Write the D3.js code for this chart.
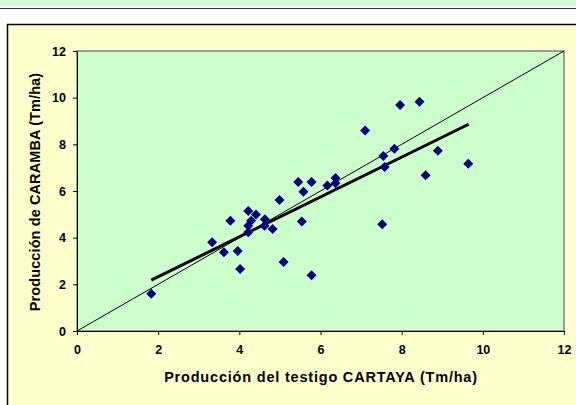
<!DOCTYPE html>
<html>
<head>
<meta charset="utf-8">
<script src="https://cdn.jsdelivr.net/npm/d3@7"></script>
<style>
  body { margin: 0; background: #fff; }
  svg { display: block; font-family: "Liberation Sans", Arial, sans-serif; }
</style>
</head>
<body>
<div id="chart"></div>
<script>
// Production data (Tm/ha)
const cartaya = [1.83, 3.33, 3.62, 3.78, 3.96, 4.02, 4.22, 4.22, 4.22, 4.29, 4.41, 4.63, 4.62, 4.82,
  4.99, 5.09, 5.45, 5.58, 5.54, 5.78, 5.78, 6.17, 6.37, 6.37, 7.10, 7.55, 7.58, 7.82, 7.96,
  8.44, 8.89, 8.59, 9.64, 7.52];
const caramba = [1.60, 3.80, 3.37, 4.73, 3.43, 2.66, 5.14, 4.51, 4.23, 4.73, 4.99, 4.79, 4.51, 4.37,
  5.61, 2.96, 6.39, 5.97, 4.69, 6.39, 2.39, 6.24, 6.56, 6.33, 8.59, 7.50, 7.03, 7.81, 9.69,
  9.83, 7.72, 6.67, 7.17, 4.57];
// trend line end points and the 1:1 reference line
const trendX = [1.83, 9.65];
const trendY = [2.18, 8.86];
const diagX = [0, 12];
const diagY = [0, 12];
const ticks = [0, 2, 4, 6, 8, 10, 12];

const W = 576, H = 405;
const svg = d3.select("#chart").append("svg").attr("width", W).attr("height", H);

// top strip
svg.append("rect").attr("x", 0).attr("y", 0).attr("width", W).attr("height", 6).attr("fill", "#d4f7d4");
svg.append("line").attr("x1", 0).attr("x2", W).attr("y1", 8.5).attr("y2", 8.5)
  .attr("stroke", "#333").attr("stroke-width", 1.2);

// outer chart frame
svg.append("rect").attr("x", 7.5).attr("y", 24.5).attr("width", 600).attr("height", 420)
  .attr("fill", "#ffffcc").attr("stroke", "#000").attr("stroke-width", 1.5);

const margin = { left: 77, top: 51, right: 564, bottom: 331 };
const x = d3.scaleLinear().domain([0, 12]).range([margin.left, margin.right]);
const y = d3.scaleLinear().domain([0, 12]).range([margin.bottom, margin.top]);

// plot area
svg.append("rect").attr("x", margin.left).attr("y", margin.top)
  .attr("width", margin.right - margin.left).attr("height", margin.bottom - margin.top)
  .attr("fill", "#ccffcc").attr("stroke", "#808080").attr("stroke-width", 1.5);

// axes
const xAxis = svg.append("g").attr("transform", `translate(0,${margin.bottom})`)
  .call(d3.axisBottom(x).tickValues(ticks).tickSize(4).tickSizeOuter(0).tickPadding(10));
const yAxis = svg.append("g").attr("transform", `translate(${margin.left},0)`)
  .call(d3.axisLeft(y).tickValues(ticks).tickSize(4).tickSizeOuter(0).tickPadding(7));
[xAxis, yAxis].forEach(a => {
  a.selectAll("path").attr("stroke", "#000").attr("stroke-width", 1);
  a.selectAll("line").attr("stroke", "#000");
  a.selectAll("text").attr("font-size", 12.5).attr("font-weight", "bold")
    .attr("font-family", "Liberation Sans, Arial, sans-serif").attr("fill", "#000");
});

// 1:1 line
svg.append("line")
  .attr("x1", x(diagX[0])).attr("y1", y(diagY[0]))
  .attr("x2", x(diagX[1])).attr("y2", y(diagY[1]))
  .attr("stroke", "#000").attr("stroke-width", 1);

// trend line
svg.append("line")
  .attr("x1", x(trendX[0])).attr("y1", y(trendY[0]))
  .attr("x2", x(trendX[1])).attr("y2", y(trendY[1]))
  .attr("stroke", "#000").attr("stroke-width", 3);

// points
const pts = cartaya.map((v, i) => ({ x: v, y: caramba[i] }));
svg.append("g").selectAll("path").data(pts).enter().append("path")
  .attr("transform", d => `translate(${x(d.x)},${y(d.y)})`)
  .attr("d", "M0,-5L5,0L0,5L-5,0Z")
  .attr("fill", "#000080");

// axis titles
svg.append("text").attr("x", 321).attr("y", 382)
  .attr("text-anchor", "middle").attr("font-size", 14.5).attr("font-weight", "bold")
  .attr("letter-spacing", 0.8)
  .text("Producción del testigo CARTAYA (Tm/ha)");
svg.append("text").attr("transform", `translate(40,192) rotate(-90)`)
  .attr("text-anchor", "middle").attr("font-size", 14.5).attr("font-weight", "bold")
  .attr("letter-spacing", 0.1)
  .text("Producción de CARAMBA (Tm/ha)");
</script>
</body>
</html>
